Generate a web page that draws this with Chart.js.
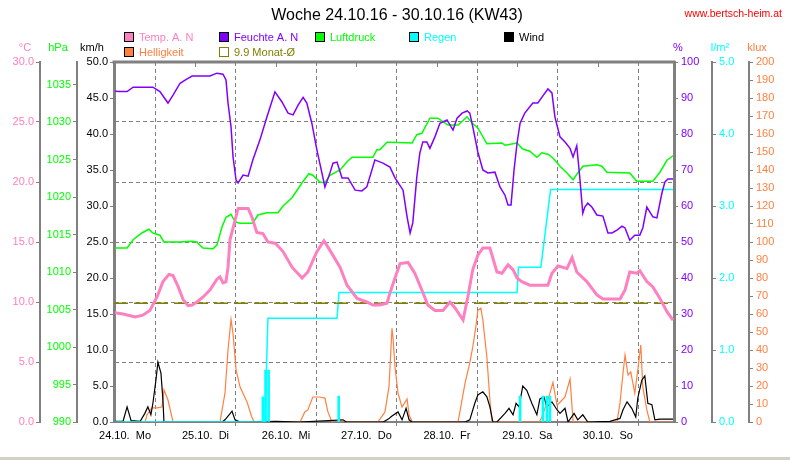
<!DOCTYPE html>
<html>
<head>
<meta charset="utf-8">
<title>Woche 24.10.16 - 30.10.16 (KW43)</title>
<script src="https://cdn.jsdelivr.net/npm/chart.js@4.4.1/dist/chart.umd.min.js"></script>
<style>
  body { margin: 0; background: #fff; }
  #wrap { position: relative; width: 790px; height: 460px; }
  #bar { position: absolute; left: 0; top: 457px; width: 790px; height: 3px; background: #d4d0c8; }
</style>
</head>
<body>
<div id="wrap">
  <canvas id="myChart" width="790" height="460"></canvas>
  <div id="bar"></div>
</div>
<script>
// hours since 24.10. 00:00
const dayHours = [0, 24, 48, 72, 96, 120, 144];
const dayLabels = ['24.10.  Mo', '25.10.  Di', '26.10.  Mi', '27.10.  Do', '28.10.  Fr', '29.10.  Sa', '30.10.  So'];
const monthAvg = 9.9;

// [hour, °C]
const tempData = [[0,9.1],[2.4,9],[6,8.75],[8.3,8.9],[10.4,9.3],[12.5,10.4],[14.3,11.7],[16.1,12.3],[17.3,12.2],[18.8,11.3],
  [20.3,10.2],[21.8,9.7],[23,9.75],[24.4,10],[26.2,10.4],[28.3,11],[30.4,11.9],[31.3,12.1],[32.2,11.6],[33.1,11.7],
  [33.7,12.9],[34.3,15.2],[35.8,16.8],[36.7,17.8],[39.7,17.8],[40.8,17.1],[42.3,15.8],[44.1,15.7],[45.6,15],[47.7,14.9],
  [48.3,14.75],[50.1,14.2],[52.8,12.9],[55.8,12],[57.5,12.5],[60.2,14.2],[62.3,15.1],[64.1,14.3],[67.1,12.9],[69.2,11.4],
  [72.2,10.3],[75.1,10],[76.9,9.75],[79,9.75],[81.1,9.9],[82,10.75],[83.5,12],[85,13.2],[87.4,13.3],[89.4,12.4],
  [91.5,11],[93.3,9.75],[95.4,9.3],[97.8,9.3],[99.9,10],[101.4,9.5],[103.8,8.5],[105.2,10.4],[106.7,12.7],[108.2,13.9],
  [109.7,14.5],[111.8,14.5],[113.9,12.5],[115.4,12.4],[117.2,13.1],[118.7,12.7],[119.9,12],[121.3,11.7],[123.7,11.4],[129.1,11.4],
  [130.3,12.4],[132.1,13],[134.8,12.8],[136.3,13.7],[137.7,12.5],[140.7,11.7],[143.7,10.6],[145.5,10.25],[150.6,10.25],[152.1,11],
  [153.5,12.5],[155.6,12.4],[156.5,12.6],[158.6,11.7],[160.4,11.25],[162.5,10.3],[164.6,9.2],[166.4,8.5]];

// [hour, %]
const humData = [[0,91.9],[1.5,91.8],[3.6,91.8],[5.4,93],[11.3,93],[13.4,91.8],[15.8,88.6],[17.3,90.8],[19.4,94.1],[21.5,95.3],
  [23,96.1],[28.3,96.1],[30.4,96.9],[32.2,96.6],[33.1,95],[33.7,88.6],[34.6,82],[35.2,73.6],[36.1,67.2],[36.7,66.4],
  [38.2,68.6],[39.7,68.3],[41.1,72.8],[43.2,78.3],[45.3,84.7],[47.7,91.7],[49.8,88.9],[51.6,85.8],[53.1,85.3],[54.6,88],
  [56.1,90.2],[57.2,88.6],[58.7,83],[60.2,75.6],[61.7,69.2],[62.6,65.3],[64.1,69.2],[65,71.9],[66.2,72.2],[67.7,67.8],
  [69.5,67.8],[71.6,64.4],[73.6,64.2],[75.1,65.3],[77.5,72.8],[79.9,71.9],[82,70.8],[83.5,67.8],[85.9,64.4],[87.1,57],
  [88,52.5],[88.8,55.3],[90,68],[90.9,74.7],[91.8,77.8],[93,77.8],[93.9,76],[95.4,79.2],[96.9,83],[99,83.9],
  [100.8,81.1],[102,84.4],[103.5,85.8],[105,86.4],[105.8,85.8],[106.7,82],[108.2,75],[109.7,70],[111.2,69.2],[113.3,69.4],
  [114.8,65.3],[116.3,63],[117.2,60.3],[118.1,60.3],[119,70],[119.9,77.5],[120.8,83],[122.2,85.8],[124.6,88.6],[126.1,88.6],
  [127.6,90.6],[129.1,92.5],[130.3,91.4],[131.2,84.7],[132.7,79.2],[134.2,77.8],[135.7,76],[136.6,73.6],[137.7,76.7],[138.6,68],
  [139.5,58],[140.1,59.7],[141,60.8],[142.2,59.7],[143.7,57.5],[145.5,57.2],[147,52.5],[148.2,52.5],[149.7,53.3],[151.2,54.4],
  [152.1,53.9],[153.5,50.5],[155,51.9],[156.5,51.9],[157.4,53.9],[158.6,59.7],[160.4,57],[161.6,56.7],[163.1,63.6],[164,66.7],
  [164.9,67.5],[166.4,67.5]];

// [hour, hPa]
const pressData = [[0,1013.2],[3.6,1013.2],[5.4,1014.3],[8,1015.2],[10.1,1015.7],[11.3,1015.2],[13.4,1014.9],[14.6,1014],[19.4,1014],[23,1014.1],
  [24.4,1014],[26.2,1013.2],[29.2,1013.1],[30.4,1013.6],[31.9,1016],[33.1,1017.3],[34.6,1017.7],[35.8,1016.7],[37.3,1016.5],[41.1,1016.5],
  [42.6,1017.6],[45.3,1017.9],[48.6,1017.9],[50.1,1018.8],[52.8,1019.9],[55.8,1021.9],[57.8,1023.1],[59,1022.9],[61.1,1022],[62.6,1021.9],
  [64.1,1022.9],[67.1,1023.6],[69.2,1024.7],[70.7,1025.3],[76.9,1025.3],[78.1,1026.3],[79,1026.3],[81.1,1027.3],[82,1027.3],[88.6,1027.2],
  [90,1028.3],[91.5,1028.5],[93.9,1030.5],[96.3,1030.5],[99.3,1029.6],[102.3,1029.6],[105,1030.7],[106.4,1029.9],[108.2,1029.2],[110.9,1027.1],
  [115.4,1027.2],[116.3,1026.9],[119.9,1027.2],[121.6,1026.4],[123.7,1026.1],[125.8,1025.3],[127.3,1025.9],[129.1,1025.7],[130.6,1025.2],[132.7,1024.1],
  [134.8,1023.2],[136.6,1022.3],[138,1023.2],[139.5,1024.1],[143.7,1024.3],[145.2,1024.1],[146.7,1023.3],[153.5,1023.2],[155.6,1022.1],[160.4,1022.1],
  [162.5,1023.3],[164.6,1024.9],[166.4,1025.5]];

// [hour, l/m² summed]
const rainSum = [[0,0],[44.7,0],[45.6,1.44],[66.2,1.44],[66.8,1.8],[119.9,1.8],[120.3,2.15],[127,2.15],[129.9,3.23],[166.4,3.23]];
// [hour, l/m²]
const rainBars = [[44.1,0.35],[44.9,0.72],[45.8,0.72],[66.7,0.36],[120.8,0.36],[127.6,0.36],[128.8,0.36],[129.7,0.36]];

// [hour, km/h]
const windData = [[0,0.1],[2.4,0.1],[3.6,2.1],[4.8,0.2],[7.5,0.1],[8.9,1.2],[9.8,2.1],[10.7,1],[11.3,2.6],[12.2,5.8],
  [12.8,8.3],[13.7,6.8],[14.3,3],[14.6,0],[31.9,0],[32.8,0.3],[34.9,1.5],[35.8,0.3],[37.3,0],[48,0.1],
  [55,0],[68,0.3],[69,0],[80,0],[81.5,0.4],[82.5,0.8],[84.4,1.4],[85.6,0.3],[86.8,1.9],[87.7,0.3],
  [88.6,0],[104.4,0],[105.8,0.3],[107.3,2.6],[108.2,3.75],[109.7,4.2],[110.9,3.5],[111.8,2.1],[112.7,0],[113.9,0],
  [116.3,1.2],[117.5,1.9],[118.7,1],[119.6,2.6],[120.5,2.1],[121.6,5],[122.8,4.4],[124.3,2.6],[125.8,1],[126.7,3.2],
  [127.9,3.5],[128.8,2.1],[130.3,2.8],[131.8,1.7],[132.7,1.2],[134.2,1.9],[135.1,0],[136.9,1.2],[138,0.3],[139.5,1],
  [141,0],[147.6,0.1],[150.6,0.5],[151.5,1.7],[152.7,2.8],[154.1,1.9],[155.3,0.7],[155.9,3.3],[157.1,5.8],[158,6.4],
  [158.9,2.6],[160.1,2.4],[161,0.3],[162.5,0.4],[166.4,0.4]];

// [hour, klux]
const luxData = [[0,0],[9,0],[9.5,3.9],[11,7.8],[12.5,7.8],[14,8.3],[14.6,17.8],[15.8,12.2],[17.3,0],[31.3,0],
  [32.8,16],[33.7,40],[34.6,57],[35.2,49],[36.1,29],[37.3,19.4],[39.4,11],[40.8,2.8],[41.5,0],[55.2,0],
  [56.6,5.6],[57.5,6.7],[59,13.9],[61.1,13.9],[62.6,13.3],[63.5,5.6],[64.7,0],[78.4,0],[80.5,5.6],[81.7,19.4],
  [82.6,52],[82.9,47],[83.5,30.6],[84.4,16],[85.6,8.3],[87.1,12.8],[87.7,4],[88.6,0],[102.3,0],[104.4,21.7],
  [105.8,32.8],[106.7,41.7],[107.6,52.8],[108.2,62],[109.1,63.3],[109.7,56.7],[110.9,36],[111.8,12.2],[112.4,0],[126.5,0],
  [127.3,2.8],[128.8,10.6],[129.7,16],[130.6,22],[131.8,9.4],[132.7,11],[134.2,13.9],[135.7,23.9],[136.6,0.5],[137,0],
  [149.7,0],[150.6,10.6],[151.5,27.2],[152.1,37.2],[153,26],[153.8,27.8],[155,16],[155.9,28.9],[156.8,42.8],[157.4,19.4],
  [158.6,6.7],[159.5,0],[166.4,0]];

const xMin = -0.3;
const xMax = 166.7;

const pink = '#ff80c0';
const purple = '#8000ff';
const green = '#00ff00';
const cyan = '#00ffff';
const orange = '#ff8040';
const olive = '#808000';
const gray = '#808080';
const fontFam = 'Arial, "Liberation Sans", sans-serif';
const small = { family: fontFam, size: 11 };

const toXY = (arr) => arr.map((p) => ({ x: p[0], y: p[1] }));

const lineSet = (label, pts, color, axis, width) => ({
  type: 'line',
  label: label,
  data: toXY(pts),
  yAxisID: axis,
  borderColor: color,
  backgroundColor: color,
  borderWidth: width,
  pointRadius: 0,
  tension: 0,
  fill: false,
});

const yAxis = (pos, weight, min, max, step, color, boxWidth, digits, lineWidth) => ({
  type: 'linear',
  position: pos,
  weight: weight,
  min: min,
  max: max,
  bounds: 'data',
  // only ticks on the step, no extra one at the max
  afterBuildTicks: (s) => {
    s.ticks = s.ticks.filter((t) => Math.abs((t.value - min) / step - Math.round((t.value - min) / step)) < 1e-6);
  },
  ticks: {
    stepSize: step,
    autoSkip: false,
    color: color,
    font: small,
    padding: pos === 'left' ? 2 : 3,
    callback: (v) => v.toFixed(digits),
  },
  grid: { drawOnChartArea: false, tickLength: 4, tickColor: gray, color: gray },
  border: { color: gray, width: lineWidth },
  afterFit: (s) => { s.width = boxWidth; },
});

const tempAxis = yAxis('left', 2, 0, 30, 5, pink, 40, 1, 2);
tempAxis.grid.drawOnChartArea = true;
tempAxis.border.dash = [4, 3];

const frame = {
  id: 'frame',
  afterDraw: (chart) => {
    const ctx = chart.ctx;
    const area = chart.chartArea;
    const xs = chart.scales.x;
    ctx.save();
    // top border and small day ticks
    ctx.strokeStyle = gray;
    ctx.lineWidth = 3;
    ctx.beginPath();
    ctx.moveTo(area.left - 1.5, area.top);
    ctx.lineTo(area.right + 1.5, area.top);
    ctx.stroke();
    ctx.lineWidth = 1;
    dayHours.slice(1).forEach((h) => {
      const px = Math.round(xs.getPixelForValue(h)) + 0.5;
      ctx.beginPath();
      ctx.moveTo(px, area.top);
      ctx.lineTo(px, area.top + 5);
      ctx.stroke();
    });

    ctx.textBaseline = 'alphabetic';
    ctx.fillStyle = '#000';
    ctx.font = '16px ' + fontFam;
    ctx.textAlign = 'center';
    ctx.fillText('Woche 24.10.16 - 30.10.16 (KW43)', 397, 20);
    ctx.fillStyle = '#ff0000';
    ctx.font = '10.5px ' + fontFam;
    ctx.textAlign = 'right';
    ctx.fillText('www.bertsch-heim.at', 782, 16.5);

    // units
    ctx.font = '11px ' + fontFam;
    ctx.textAlign = 'center';
    const units = [['°C', pink, 25], ['hPa', green, 58], ['km/h', '#000', 92],
      ['%', purple, 678], ['l/m²', cyan, 720], ['klux', orange, 757]];
    units.forEach((u) => {
      ctx.fillStyle = u[1];
      ctx.fillText(u[0], u[2], 51);
    });

    // legend
    const legend = [
      ['Temp. A. N', pink, 124, 32], ['Feuchte A. N', purple, 219, 32], ['Luftdruck', green, 315, 32],
      ['Regen', cyan, 409, 32], ['Wind', '#000', 504, 32],
      ['Helligkeit', orange, 124, 47], [monthAvg + ' Monat-Ø', olive, 219, 47, true],
    ];
    ctx.textAlign = 'left';
    legend.forEach((l) => {
      const [text, color, lx, ly, open] = l;
      if (open) {
        ctx.strokeStyle = olive;
        ctx.lineWidth = 1;
        ctx.strokeRect(lx + 0.5, ly + 0.5, 9, 9);
      } else {
        ctx.fillStyle = color;
        ctx.fillRect(lx, ly, 10, 10);
        ctx.strokeStyle = '#000';
        ctx.lineWidth = 1;
        ctx.strokeRect(lx + 0.5, ly + 0.5, 9, 9);
      }
      ctx.fillStyle = color;
      ctx.fillText(text, lx + 15, ly + 9);
    });
    ctx.restore();
  },
};

const config = {
  type: 'line',
  data: {
    datasets: [
      lineSet('Temp. A. N', tempData, pink, 'temp', 3),
      lineSet('Feuchte A. N', humData, purple, 'hum', 1.5),
      lineSet('Luftdruck', pressData, green, 'hpa', 1.5),
      Object.assign(lineSet(monthAvg + ' Monat-Ø', [[xMin, monthAvg], [xMax, monthAvg]], olive, 'temp', 1.5), { borderDash: [14, 6] }),
      lineSet('Regen', rainSum, cyan, 'rain', 1.5),
      {
        type: 'bar',
        label: 'Regen',
        data: toXY(rainBars),
        yAxisID: 'rain',
        backgroundColor: cyan,
        barThickness: 2,
      },
      lineSet('Wind', windData, '#000', 'kmh', 1.2),
      lineSet('Helligkeit', luxData, orange, 'klux', 1.2),
    ],
  },
  options: {
    responsive: false,
    animation: false,
    layout: { padding: { top: 62, left: 0, right: 0, bottom: 0 } },
    plugins: { legend: { display: false }, title: { display: false }, tooltip: { enabled: false } },
    scales: {
      x: {
        type: 'linear',
        position: 'bottom',
        min: xMin,
        max: xMax,
        offset: false,
        afterBuildTicks: (s) => { s.ticks = dayHours.map((h) => ({ value: h })); },
        ticks: {
          autoSkip: false,
          maxRotation: 0,
          color: '#000',
          font: small,
          padding: 3,
          labelOffset: 10,
          callback: (v) => dayLabels[dayHours.indexOf(v)],
        },
        grid: { color: gray, tickColor: gray, tickLength: 4 },
        border: { color: gray, width: 2, dash: [4, 3] },
        afterFit: (s) => { s.height = 38; },
      },
      temp: tempAxis,
      hpa: yAxis('left', 1, 990, 1038, 5, green, 37, 0, 2),
      kmh: yAxis('left', 0, 0, 50, 5, '#000', 37, 1, 3),
      hum: yAxis('right', 0, 0, 100, 10, purple, 38, 0, 3),
      rain: yAxis('right', 1, 0, 5, 1, cyan, 37, 1, 2),
      klux: yAxis('right', 2, 0, 200, 10, orange, 41, 0, 2),
    },
  },
  plugins: [frame],
};

const myChartConfig = new Chart('myChart', config);
</script>
</body>
</html>
